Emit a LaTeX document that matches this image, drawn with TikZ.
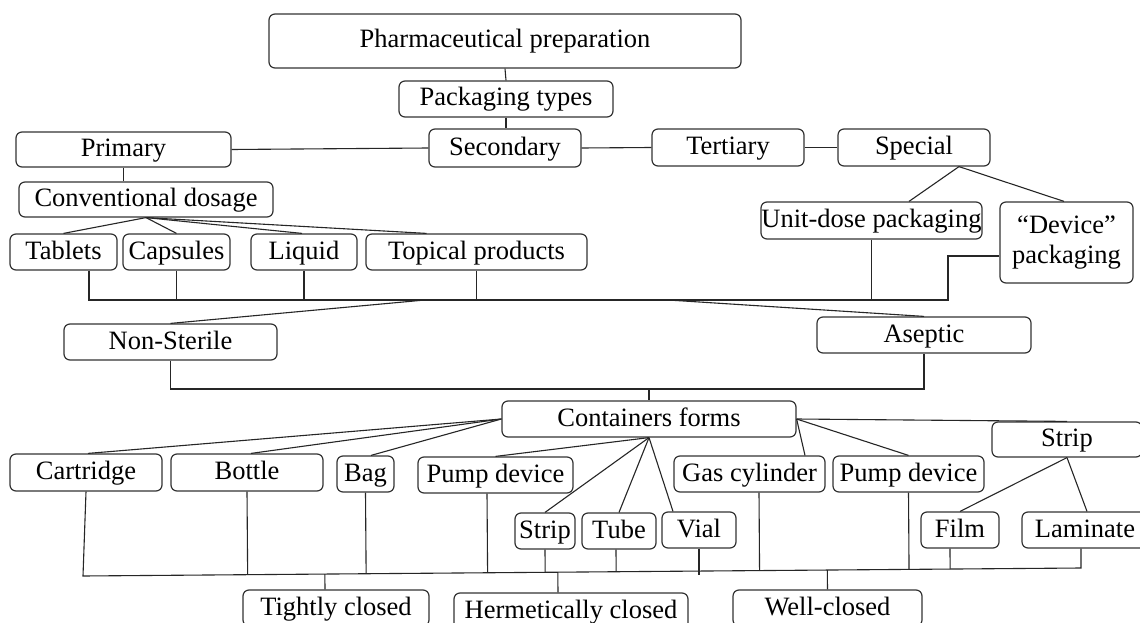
\documentclass[tikz,border=0pt]{standalone}
\usepackage{fontspec}
\setmainfont{Liberation Serif}
\usetikzlibrary{calc}
\begin{document}
\begin{tikzpicture}[x=1pt,y=-1pt,
  boxbase/.style={draw=black!80, line width=1.2pt, rounded corners=6pt, inner sep=0pt,
    font=\fontsize{26.5}{30}\selectfont, text=black},
  box/.style={boxbase, text height=19pt, text depth=5pt},
  conn/.style={draw=black!85, line width=1.1pt}]
\clip (0,0) rectangle (1140,623);
\fill[white] (0,0) rectangle (1140,623);
% top levels
\node[box, minimum width=472pt, minimum height=54pt] (pharm) at (505,41) {Pharmaceutical preparation};
\node[box, minimum width=214pt, minimum height=36pt] (ptypes) at (506,99) {Packaging types};
\node[box, minimum width=152pt, minimum height=38pt] (secondary) at (505,148) {Secondary};
\node[box, minimum width=215pt, minimum height=35pt] (primary) at (123.5,149.5) {Primary};
\node[box, minimum width=152pt, minimum height=37pt] (tertiary) at (728,147.5) {Tertiary};
\node[box, minimum width=152pt, minimum height=37pt] (special) at (914,147.5) {Special};
\node[box, minimum width=254pt, minimum height=35pt] (conv) at (146,199.5) {Conventional dosage};
\node[box, minimum width=107pt, minimum height=36pt] (tablets) at (63.5,252) {Tablets};
\node[box, minimum width=107pt, minimum height=36pt] (capsules) at (176.5,252) {Capsules};
\node[box, minimum width=106pt, minimum height=36pt] (liquid) at (304,252) {Liquid};
\node[box, minimum width=221pt, minimum height=36pt] (topical) at (476.5,252) {Topical products};
\node[box, minimum width=221pt, minimum height=37pt] (unitdose) at (871.5,220.5) {Unit-dose packaging};
\node[boxbase, align=center, minimum width=133pt, minimum height=81pt] (device) at (1066.5,242.5) {“Device”\\packaging};
\node[box, minimum width=213pt, minimum height=36pt] (nonsterile) at (170.5,342) {Non-Sterile};
\node[box, minimum width=214pt, minimum height=36pt] (aseptic) at (924,335) {Aseptic};
\node[box, minimum width=294pt, minimum height=36pt] (containers) at (649,419) {Containers forms};
% container forms
\node[box, minimum width=152pt, minimum height=37pt] (cartridge) at (86,472.5) {Cartridge};
\node[box, minimum width=152pt, minimum height=37pt] (bottle) at (247,472.5) {Bottle};
\node[box, minimum width=57pt, minimum height=36pt] (bag) at (365.5,474) {Bag};
\node[box, minimum width=155pt, minimum height=36pt] (pumpL) at (495.5,475) {Pump device};
\node[box, minimum width=60pt, minimum height=36pt] (stripS) at (545,531) {Strip};
\node[box, minimum width=74pt, minimum height=36pt] (tube) at (619,531) {Tube};
\node[box, minimum width=74pt, minimum height=36pt] (vial) at (699,530) {Vial};
\node[box, minimum width=151pt, minimum height=36pt] (gas) at (749.5,474) {Gas cylinder};
\node[box, minimum width=151pt, minimum height=36pt] (pumpR) at (908.5,474) {Pump device};
\node[box, minimum width=150pt, minimum height=35pt] (stripR) at (1067,439.5) {Strip};
\node[box, minimum width=78pt, minimum height=36pt] (film) at (960,530) {Film};
\node[box, minimum width=126pt, minimum height=36pt] (laminate) at (1085,530) {Laminate};
% closures
\node[box, minimum width=186pt, minimum height=36pt] (tight) at (336,608) {Tightly closed};
\node[box, minimum width=234pt, minimum height=36pt] (hermetic) at (571,611) {Hermetically closed};
\node[box, minimum width=189pt, minimum height=36pt] (well) at (827.5,608) {Well-closed};

% connectors: top
\draw[conn] (pharm.south) -- (ptypes.north);
\draw[conn] (ptypes.south) -- (ptypes.south |- secondary.north);
\draw[conn] (primary.east) -- (secondary.west);
\draw[conn] (secondary.east) -- (tertiary.west);
\draw[conn] (tertiary.east) -- (special.west);
\draw[conn] (primary.south) -- (primary.south |- conv.north);
\draw[conn] (conv.south) -- (tablets.north);
\draw[conn] (conv.south) -- (capsules.north);
\draw[conn] (conv.south) -- ([xshift=-2pt]liquid.north);
\draw[conn] (conv.south) -- ([xshift=-50pt]topical.north);
\draw[conn] ([xshift=45pt]special.south) -- ([xshift=37.5pt]unitdose.north);
\draw[conn] ([xshift=45pt]special.south) -- ([xshift=-2.5pt]device.north);
% first bus
\coordinate (busA) at (89,300);
\coordinate (busB) at (948,300);
\draw[conn] ([xshift=25.5pt]tablets.south) -- (busA) -- (busB) |- ([yshift=-13.5pt]device.west);
\draw[conn] (capsules.south) -- (capsules.south |- busA);
\draw[conn] (liquid.south) -- (liquid.south |- busA);
\draw[conn] (topical.south) -- (topical.south |- busA);
\draw[conn] (unitdose.south) -- (unitdose.south |- busA);
\coordinate (busNS) at (425,300);
\coordinate (busAS) at (668,300);
\draw[conn] (busNS) -- (nonsterile.north);
\draw[conn] (busAS) -- (aseptic.north);
% second bus
\coordinate (bus2) at (649,389);
\draw[conn] (nonsterile.south) |- (bus2 -| aseptic.south) -- (aseptic.south);
\draw[conn] (bus2) -- (containers.north);
% container fan
\draw[conn] (containers.west) -- ([xshift=2pt]cartridge.north);
\draw[conn] (containers.west) -- ([xshift=4pt]bottle.north);
\draw[conn] (containers.west) -- ([xshift=5.5pt]bag.north);
\draw[conn] (containers.south) -- (pumpL.north);
\draw[conn] (containers.south) -- (stripS.north);
\draw[conn] (containers.south) -- (tube.north);
\draw[conn] (containers.south) -- ([xshift=-26pt]vial.north);
\draw[conn] (containers.east) -- ([xshift=55.5pt]gas.north);
\draw[conn] (containers.east) -- (pumpR.north);
\draw[conn] (containers.east) -- (stripR.north);
\draw[conn] (stripR.south) -- (film.north);
\draw[conn] (stripR.south) -- ([xshift=2pt]laminate.north);
% bottom bus
\coordinate (bl) at (83,576);
\coordinate (br) at (1081,568);
\draw[conn] (cartridge.south) -- (bl) -- (br) -- ([xshift=-4pt]laminate.south);
\draw[conn] (bottle.south) -- ($(bl)!(bottle.south)!(br)$);
\draw[conn] (bag.south) -- ($(bl)!(bag.south)!(br)$);
\coordinate (pl) at ([xshift=-8.5pt]pumpL.south);
\draw[conn] (pl) -- ($(bl)!(pl)!(br)$);
\draw[conn] (stripS.south) -- ($(bl)!(stripS.south)!(br)$);
\coordinate (tu) at ([xshift=-3pt]tube.south);
\draw[conn] (tu) -- ($(bl)!(tu)!(br)$);
\draw[conn] (vial.south) -- ++(0,26);
\coordinate (ga) at ([xshift=9.5pt]gas.south);
\draw[conn] (ga) -- ($(bl)!(ga)!(br)$);
\draw[conn] (pumpR.south) -- ($(bl)!(pumpR.south)!(br)$);
\coordinate (fi) at ([xshift=-10pt]film.south);
\draw[conn] (fi) -- ($(bl)!(fi)!(br)$);
\coordinate (t1) at ([xshift=-11pt]tight.north);
\draw[conn] (t1) -- ($(bl)!(t1)!(br)$);
\coordinate (h1) at ([xshift=-13pt]hermetic.north);
\draw[conn] (h1) -- ($(bl)!(h1)!(br)$);
\draw[conn] (well.north) -- ($(bl)!(well.north)!(br)$);
\end{tikzpicture}
\end{document}
